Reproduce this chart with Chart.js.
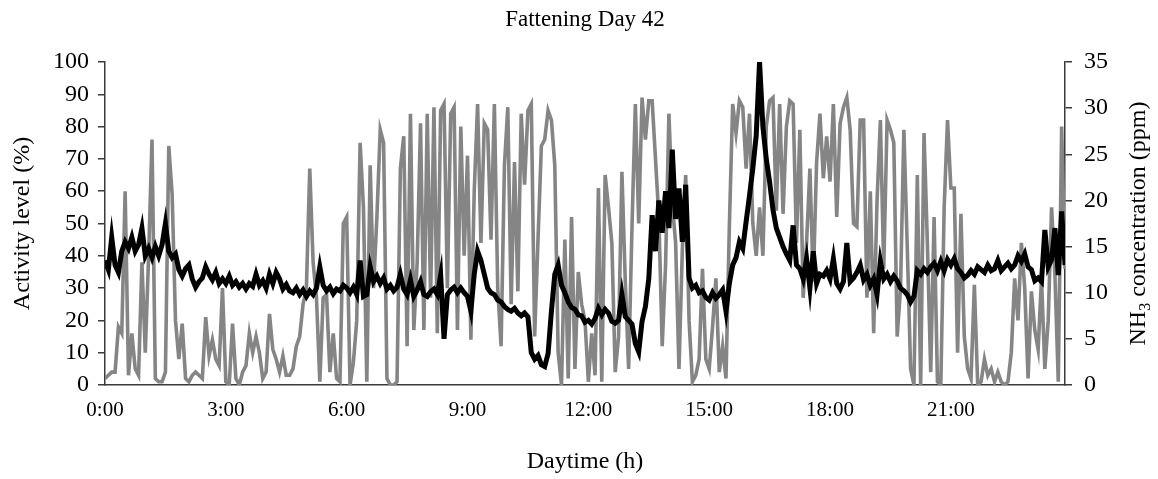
<!DOCTYPE html>
<html>
<head>
<meta charset="utf-8">
<script src="https://cdn.jsdelivr.net/npm/chart.js@4.4.1/dist/chart.umd.min.js"></script>
<style>
  html, body { margin: 0; padding: 0; background: #fff; }
  #wrap { width: 1158px; height: 479px; }
</style>
</head>
<body>
<div id="wrap"><canvas id="c" width="1158" height="479"></canvas></div>
<script>
// Sampling interval of both series, in minutes from 0:00
const STEP_MIN = 5;

// Activity level (%), one reading every 5 minutes
const activity = [
  2, 3, 4, 4, 18, 16, 60, 3, 16, 5, 3, 38, 10, 40, 76, 2, 1, 1, 4, 74,
  59, 20, 8, 19, 2, 1, 3, 4, 3, 2, 21, 9, 14, 8, 6, 30, 1, 0, 19, 2,
  0, 4, 6, 16, 10, 15, 10, 2, 4, 22, 11, 8, 4, 9, 3, 3, 5, 12, 15, 25,
  30, 67, 38, 27, 1, 27, 28, 4, 16, 2, 1, 50, 52, 0, 7, 20, 75, 55, 1, 68,
  30, 52, 79, 75, 2, 0, 0, 1, 67, 77, 12, 84, 17, 38, 81, 17, 84, 27, 86, 16,
  85, 87, 30, 84, 86, 17, 80, 40, 71, 14, 60, 87, 44, 81, 79, 45, 87, 30, 12, 68,
  86, 25, 69, 29, 84, 62, 85, 87, 15, 45, 74, 76, 85, 82, 68, 10, 0, 45, 2, 52,
  5, 35, 25, 20, 1, 16, 3, 61, 1, 65, 55, 44, 4, 15, 66, 32, 5, 49, 87, 50,
  89, 76, 88, 88, 70, 52, 12, 37, 84, 56, 44, 5, 42, 65, 20, 1, 3, 8, 36, 8,
  5, 18, 33, 4, 12, 2, 49, 87, 78, 88, 86, 67, 84, 50, 40, 55, 40, 80, 88, 89,
  54, 87, 53, 80, 88, 87, 44, 79, 27, 44, 67, 32, 69, 84, 64, 77, 63, 87, 52, 81,
  86, 89, 79, 50, 49, 82, 82, 27, 60, 16, 57, 82, 36, 82, 79, 75, 15, 30, 79, 43,
  5, 0, 65, 0, 78, 44, 4, 52, 1, 0, 55, 82, 61, 61, 10, 53, 15, 5, 2, 31,
  0, 1, 8, 3, 5, 1, 4, 1, 0, 1, 10, 33, 20, 44, 30, 2, 29, 17, 11, 33,
  5, 20, 55, 34, 1, 80, 36
];

// NH3 concentration (ppm), same time base
const nh3 = [
  13.5, 12.5, 16, 13, 12.2, 14.5, 15.5, 14.8, 16, 14.5, 15.2, 17, 14, 14.8, 13.8, 15, 14, 15.2, 17.5, 14.5,
  13.8, 14.2, 12.5, 11.8, 12.6, 13, 11.5, 10.6, 11.2, 11.6, 12.8, 12, 11.4, 12.2, 11, 11.5, 11, 11.8, 10.8, 11.2,
  10.6, 11, 10.4, 11, 10.7, 12, 10.8, 11.3, 10.5, 12, 11, 12.2, 11.5, 10.4, 10.9, 10.2, 10, 10.5, 9.8, 10.3,
  9.6, 10.2, 9.8, 10.5, 12.8, 10.8, 10.2, 10.6, 9.9, 10.4, 10.2, 10.8, 10.5, 10, 10.6, 9.8, 13.5, 9.6, 9.8, 12.8,
  11.2, 11.8, 11, 11.6, 10.4, 10.8, 10.2, 10.6, 12, 10.4, 9.8, 11.4, 9.6, 10.3, 11.2, 9.8, 9.6, 10.1, 10.4, 9.8,
  11.9, 5, 9.8, 10.3, 10.6, 10, 10.5, 10, 9.6, 8, 12, 14.5, 13.5, 12, 10.5, 10, 9.8, 9.2, 9, 8.5,
  8.2, 8, 8.3, 7.8, 7.5, 7.8, 7.4, 3.5, 2.8, 3.2, 2.2, 2, 3.4, 8, 12, 13, 10.8, 10, 9, 8.4,
  8.2, 7.6, 7.5, 6.8, 7, 6.6, 7.2, 8.3, 7.6, 8.2, 7.8, 6.9, 6.7, 7, 9.8, 7.4, 7, 6.6, 4.5, 3.6,
  6.9, 8.5, 11.5, 18.4, 14.5, 20, 16.5, 21, 17, 25.5, 18, 21.3, 15.5, 21.7, 11.6, 10.5, 10.8, 10, 10.2, 9.5,
  9.2, 10, 9.4, 9.8, 10.3, 8, 11, 13, 13.8, 15.5, 14.8, 17.7, 20.5, 23.5, 27, 35, 28, 24.5, 22, 19,
  17, 16, 15, 14.2, 13.5, 17.3, 13, 12.6, 11.5, 13.7, 10.5, 14.5, 11, 12, 11.8, 12.4, 11.5, 13.7, 11, 10.4,
  11.2, 15.4, 11.2, 11.6, 12.2, 13, 11.4, 12, 10.8, 11.5, 9.8, 13.4, 11.5, 12, 11.2, 11.8, 11.3, 10.5, 10.2, 9.8,
  9, 9.6, 12.4, 12, 12.6, 12.2, 12.8, 13.2, 12.4, 13.4, 12.4, 13.6, 13, 13.7, 12.6, 12.2, 11.6, 11.9, 12.4, 12,
  12.8, 12.5, 12.2, 13, 12.4, 12.6, 13.5, 12.4, 12.8, 13.2, 12.6, 13, 14, 13.4, 14.2, 12.8, 12.5, 11.3, 11.6, 11.2,
  16.8, 12.8, 13.6, 17, 11.9, 18.8, 13
];

// Time axis: labelled ticks every three hours
const xTickMinutes = [0, 180, 360, 540, 720, 900, 1080, 1260];
const xTickLabels = ['0:00', '3:00', '6:00', '9:00', '12:00', '15:00', '18:00', '21:00'];
const X_END_MIN = 1430;

const FONT = '"Liberation Serif", "Times New Roman", serif';
const AXIS_COLOR = '#3a3a3a';

const asPoints = (arr) => arr.map((v, i) => ({ x: i * STEP_MIN, y: v }));

// Chart title and axis titles (the right one carries a subscript)
const titlePlugin = {
  id: 'titles',
  afterDraw(chart) {
    const { ctx, chartArea } = chart;
    const midY = (chartArea.top + chartArea.bottom) / 2;
    const midX = (chartArea.left + chartArea.right) / 2;
    ctx.save();
    ctx.fillStyle = '#000';
    ctx.textBaseline = 'middle';
    ctx.textAlign = 'center';

    ctx.font = '23px ' + FONT;
    ctx.fillText('Fattening Day 42', midX, 20);

    ctx.font = '24px ' + FONT;
    ctx.fillText('Daytime (h)', midX, 462);

    // left axis title
    ctx.save();
    ctx.translate(23, midY);
    ctx.rotate(-Math.PI / 2);
    ctx.fillText('Activity level (%)', 0, 0);
    ctx.restore();

    // right axis title: NH3 with subscript 3
    ctx.save();
    ctx.translate(1139, midY);
    ctx.rotate(-Math.PI / 2);
    const big = '24px ' + FONT;
    const small = '16px ' + FONT;
    const parts = [
      { t: 'NH', f: big, dy: 0 },
      { t: '3', f: small, dy: 7 },
      { t: ' concentration (ppm)', f: big, dy: 0 }
    ];
    let total = 0;
    parts.forEach(p => { ctx.font = p.f; p.w = ctx.measureText(p.t).width; total += p.w; });
    let x = -total / 2;
    ctx.textAlign = 'left';
    parts.forEach(p => { ctx.font = p.f; ctx.fillText(p.t, x, p.dy); x += p.w; });
    ctx.restore();

    ctx.restore();
  }
};

new Chart(document.getElementById('c'), {
  type: 'line',
  data: {
    datasets: [
      {
        label: 'NH3 concentration',
        data: asPoints(nh3),
        yAxisID: 'y2',
        borderColor: '#000000',
        borderWidth: 5,
        pointRadius: 0,
        tension: 0,
        order: 0
      },
      {
        label: 'Activity level',
        data: asPoints(activity),
        yAxisID: 'y',
        borderColor: '#858585',
        borderWidth: 3.6,
        pointRadius: 0,
        tension: 0,
        order: 1
      }
    ]
  },
  options: {
    responsive: false,
    animation: false,
    events: [],
    layout: { padding: { top: 62 } },
    plugins: { legend: { display: false }, tooltip: { enabled: false }, title: { display: false } },
    scales: {
      x: {
        type: 'linear',
        min: 0,
        max: X_END_MIN,
        afterBuildTicks(scale) { scale.ticks = xTickMinutes.map(v => ({ value: v })); },
        afterFit(scale) { scale.height = 94; },
        ticks: {
          autoSkip: false,
          maxRotation: 0,
          padding: 13,
          color: '#000',
          font: { family: FONT, size: 21 },
          callback: (v, i) => xTickLabels[i]
        },
        grid: { display: true, drawOnChartArea: false, drawTicks: false },
        border: { display: true, color: AXIS_COLOR, width: 1.5 }
      },
      y: {
        position: 'left',
        min: 0,
        max: 100,
        afterFit(scale) { scale.width = 105; },
        ticks: {
          stepSize: 10,
          padding: 9,
          color: '#000',
          font: { family: FONT, size: 24 }
        },
        grid: { display: true, drawOnChartArea: false, drawTicks: true, tickLength: 7, color: AXIS_COLOR, lineWidth: 1.5 },
        border: { display: true, color: AXIS_COLOR, width: 1.5 }
      },
      y2: {
        position: 'right',
        min: 0,
        max: 35,
        afterFit(scale) { scale.width = 93; },
        ticks: {
          stepSize: 5,
          padding: 12,
          color: '#000',
          font: { family: FONT, size: 24 }
        },
        grid: { display: true, drawOnChartArea: false, drawTicks: true, tickLength: 7, color: AXIS_COLOR, lineWidth: 1.5 },
        border: { display: true, color: AXIS_COLOR, width: 1.5 }
      }
    }
  },
  plugins: [titlePlugin]
});
</script>
</body>
</html>
